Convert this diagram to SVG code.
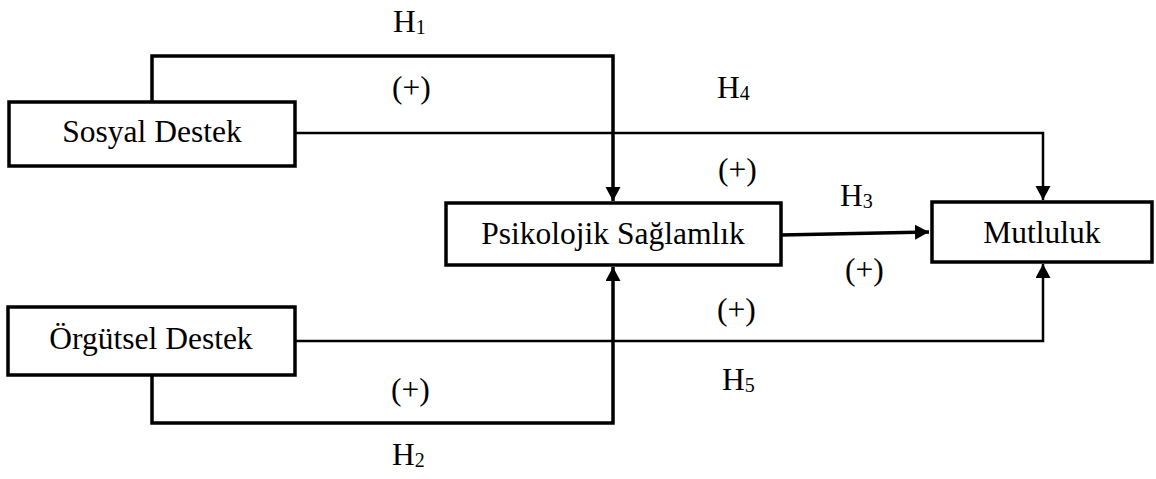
<svg xmlns="http://www.w3.org/2000/svg" width="1156" height="479" viewBox="0 0 1156 479">
<style>
.box{fill:#fff;stroke:#000;stroke-width:3.5}
.t{font-family:"Liberation Serif","Times New Roman",serif;font-size:31.5px;fill:#000}
.c{text-anchor:middle}
.thick{fill:none;stroke:#000;stroke-width:3.5}
.thin{fill:none;stroke:#000;stroke-width:2.5}
</style>
<defs>
<marker id="ah" markerUnits="userSpaceOnUse" markerWidth="16" markerHeight="16" refX="14" refY="7.5" orient="auto">
<path d="M0,0 L14,7.5 L0,15 z" fill="#000"/>
</marker>
</defs>
<rect width="1156" height="479" fill="#fff"/>
<g id="connectors">
<polyline class="thick" points="152,102 152,56 613,56 613,201" marker-end="url(#ah)"/>
<polyline class="thin" points="295,133 1043,133 1043,200" marker-end="url(#ah)"/>
<line class="thick" x1="781" y1="235" x2="929" y2="232" marker-end="url(#ah)"/>
<polyline class="thin" points="295,341 1043,341 1043,264" marker-end="url(#ah)"/>
<polyline class="thick" points="152,375 152,423 613,423 613,267" marker-end="url(#ah)"/>
</g>
<g id="node-sosyal">
<rect class="box" x="9" y="102" width="286" height="64"/>
<text class="t c" x="152" y="142">Sosyal Destek</text>
</g>
<g id="node-orgutsel">
<rect class="box" x="8" y="307" width="287" height="68"/>
<text class="t c" x="151" y="349">Örgütsel Destek</text>
</g>
<g id="node-psikolojik">
<rect class="box" x="446" y="203" width="335" height="62"/>
<text class="t c" x="613" y="244">Psikolojik Sağlamlık</text>
</g>
<g id="node-mutluluk">
<rect class="box" x="932" y="202" width="220" height="60"/>
<text class="t c" x="1042" y="243">Mutluluk</text>
</g>
<g id="labels">
<text class="t" x="393" y="32">H<tspan font-size="20" dy="2">1</tspan></text>
<text class="t" x="392" y="98">(+)</text>
<text class="t" x="717" y="98">H<tspan font-size="20" dy="2">4</tspan></text>
<text class="t" x="718" y="180">(+)</text>
<text class="t" x="840" y="206">H<tspan font-size="20" dy="2">3</tspan></text>
<text class="t" x="845" y="280">(+)</text>
<text class="t" x="717" y="320">(+)</text>
<text class="t" x="722" y="390">H<tspan font-size="20" dy="2">5</tspan></text>
<text class="t" x="391" y="400">(+)</text>
<text class="t" x="392" y="465">H<tspan font-size="20" dy="2">2</tspan></text>
</g>
</svg>
